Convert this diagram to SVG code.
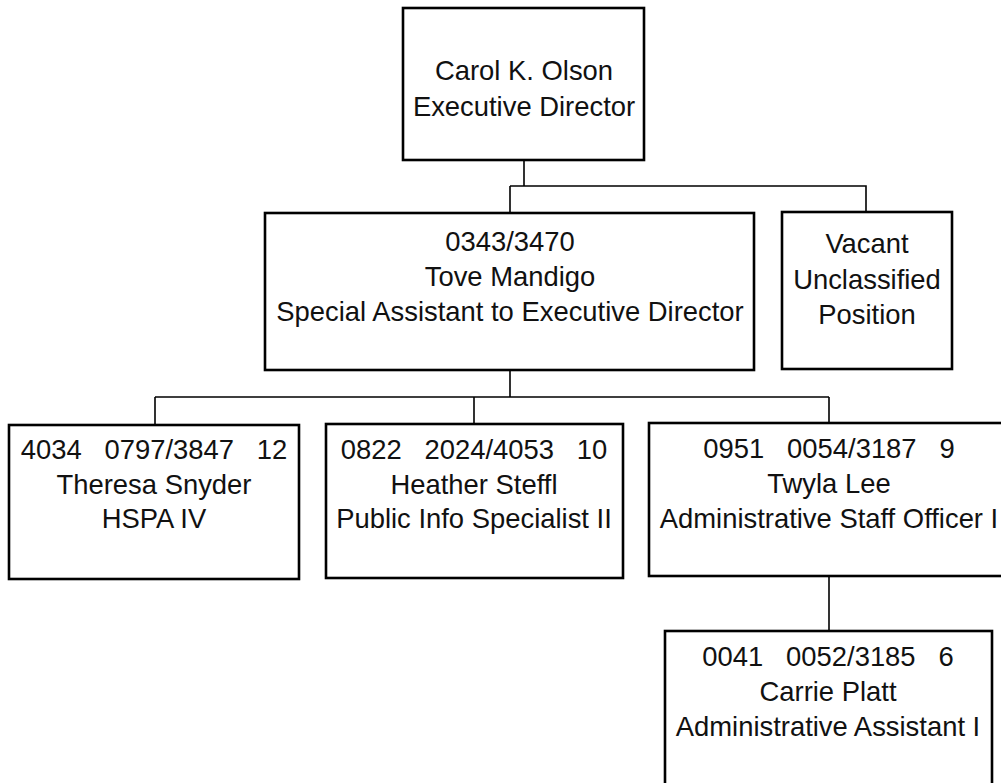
<svg xmlns="http://www.w3.org/2000/svg" width="1001" height="783" viewBox="0 0 1001 783">
<style>
.box{fill:#fff;stroke:#000;stroke-width:2.6}
.conn{fill:none;stroke:#000;stroke-width:1.6}
text{font-family:"Liberation Sans",Arial,sans-serif;font-size:27.4px;fill:#111;text-anchor:middle;white-space:pre}
</style>
<rect width="1001" height="783" fill="#fff"/>
<g id="connectors">
<path class="conn" d="M524 160V186M510 186H866V212M510 186V213"/>
<path class="conn" d="M510 370V397M155 397H829M155 397V425M474 397V424M829 397V423"/>
<path class="conn" d="M829 576V631"/>
</g>
<g id="olson">
<rect class="box" x="403" y="8" width="241" height="152"/>
<text x="524" y="80">Carol K. Olson</text>
<text x="524" y="116">Executive Director</text>
</g>
<g id="mandigo">
<rect class="box" x="265" y="213" width="489" height="157"/>
<text x="510" y="251">0343/3470</text>
<text x="510" y="286">Tove Mandigo</text>
<text x="510" y="321">Special Assistant to Executive Director</text>
</g>
<g id="vacant">
<rect class="box" x="782" y="212" width="170" height="157"/>
<text x="867" y="253">Vacant</text>
<text x="867" y="289">Unclassified</text>
<text x="867" y="324">Position</text>
</g>
<g id="snyder">
<rect class="box" x="9" y="425" width="290" height="154"/>
<text x="154" y="459">4034   0797/3847   12</text>
<text x="154" y="494">Theresa Snyder</text>
<text x="154" y="528">HSPA IV</text>
</g>
<g id="steffl">
<rect class="box" x="326" y="424" width="297" height="154"/>
<text x="474" y="459">0822   2024/4053   10</text>
<text x="474" y="494">Heather Steffl</text>
<text x="474" y="528">Public Info Specialist II</text>
</g>
<g id="lee">
<rect class="box" x="649" y="423" width="360" height="153"/>
<text x="829" y="458">0951   0054/3187   9</text>
<text x="829" y="493">Twyla Lee</text>
<text x="829" y="528">Administrative Staff Officer I</text>
</g>
<g id="platt">
<rect class="box" x="665" y="631" width="327" height="160"/>
<text x="828" y="666">0041   0052/3185   6</text>
<text x="828" y="701">Carrie Platt</text>
<text x="828" y="736">Administrative Assistant I</text>
</g>
</svg>
